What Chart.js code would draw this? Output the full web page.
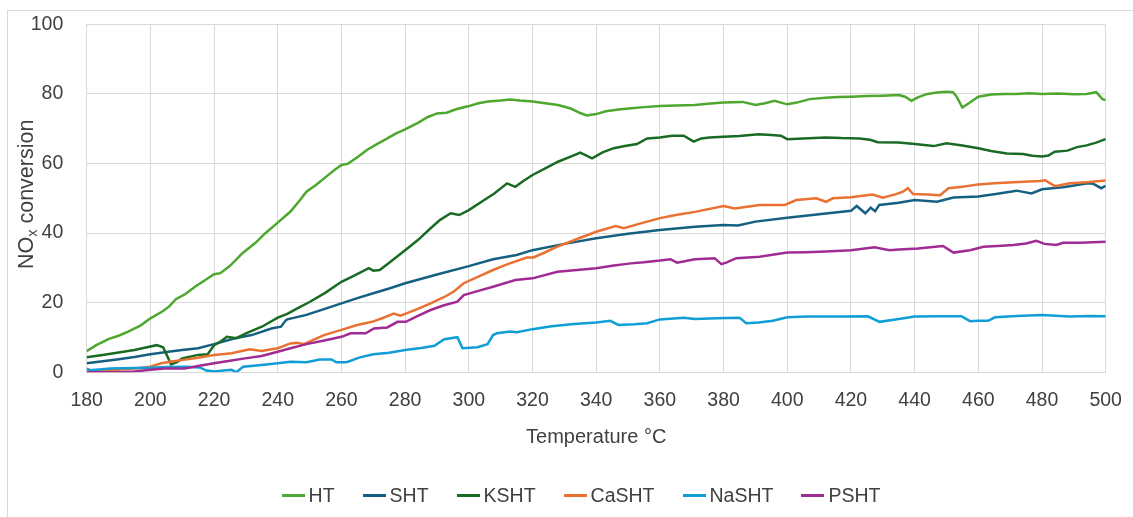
<!DOCTYPE html>
<html>
<head>
<meta charset="utf-8">
<script src="https://cdn.jsdelivr.net/npm/chart.js@4.4.1/dist/chart.umd.min.js"></script>
<style>
  html, body { margin: 0; padding: 0; background: #ffffff; }
  #wrap { position: relative; width: 1133px; height: 517px; overflow: hidden;
          font-family: "Liberation Sans", Arial, sans-serif; }
  #frame { position: absolute; left: 7px; top: 10px; width: 1300px; height: 700px;
           border-left: 1px solid #d9d9d9; border-top: 1px solid #d9d9d9; }
  #chart { position: absolute; left: 0; top: 0; }
  #legend { position: absolute; left: 0; width: 1162px; top: 483px; height: 24px;
            display: flex; justify-content: center; align-items: center;
            font-size: 19.5px; color: #404040; }
  .item { display: flex; align-items: center; margin: 0 14px; }
  .swatch { width: 23px; height: 3px; margin-right: 4px; }
</style>
</head>
<body>
<div id="wrap">
  <div id="frame"></div>
  <canvas id="chart" width="1133" height="517"></canvas>
  <div id="legend"></div>
</div>
<script>
// Axis ticks
const xTicks = [180, 200, 220, 240, 260, 280, 300, 320, 340, 360, 380, 400, 420, 440, 460, 480, 500];
const yTicks = [0, 20, 40, 60, 80, 100];

// HT
const htTemp = [180,183,187,190,193,197,200,204,206,208,211,214,217,220,222,225,229,233,236,240,244,247,249,252,256,258,260,262,265,268,271,274,277,280,284,287,290,293,296,300,303,306,310,313,316,320,324,328,332,335,337,340,343,347,351,355,360,365,371,375,380,383,386,390,393,396,398,400,403,407,412,416,420,425,430,435,437,439,441,444,447,450,452,453,455,457,460,464,468,472,476,480,485,490,494,497,499,500];
const htConv = [6.1,7.8,9.6,10.5,11.7,13.5,15.5,17.6,19,21,22.5,24.6,26.4,28.2,28.5,30.6,34.3,37.2,39.9,43,46.2,49.5,51.9,53.8,56.8,58.3,59.6,59.9,61.8,63.9,65.5,67,68.6,69.8,71.7,73.3,74.4,74.6,75.6,76.5,77.3,77.8,78.1,78.4,78.1,77.8,77.3,76.8,75.8,74.5,73.8,74.2,75,75.5,75.9,76.2,76.5,76.7,76.8,77.2,77.5,77.6,77.7,76.8,77.3,78,77.5,77,77.5,78.5,78.9,79.1,79.2,79.4,79.5,79.7,79.2,78,79,80,80.4,80.6,80.5,79.5,76.1,77.3,79.2,79.8,80,80,80.2,80,80.1,79.9,80,80.5,78.5,78.2];

// SHT
const shtTemp = [180,185,189.5,195,200,205.6,210,215,220,226.6,231.8,238,241,242.6,243,249,255,260,265,270,275,280,290,300,307.6,315,320,330,340,350,360,371,380,384.5,390,400,410,420,421.8,424.5,426.2,427.6,428.9,435,440,447,452.2,460,466,472,476.7,480,486.6,494.4,496,498.6,500];
const shtConv = [2.6,3.2,3.7,4.4,5.2,5.9,6.4,6.9,8.1,9.8,10.7,12.6,13.1,15,15.2,16.5,18.3,19.8,21.3,22.7,24.1,25.6,28.1,30.5,32.5,33.7,35.1,36.9,38.5,39.8,40.9,41.8,42.3,42.2,43.3,44.4,45.4,46.4,47.8,45.7,47.3,46.3,48.1,48.7,49.5,49,50.2,50.5,51.3,52.2,51.4,52.6,53.2,54.3,54.2,52.9,53.6];

// KSHT
const kshtTemp = [180,185,190,195,200,202,204,206.5,208.5,210,215,218,220,222,224,227,230,235,240,243,246,250,255,260,264,268.6,270,272,275,280,284,288,291,294.3,297,300,304,308,312,314.6,317,320,324,328,332,335,338.7,342,345.5,349,352.8,356,360,363.8,367.5,370.6,373,375.6,380,385,391,395,398,400,405,412,417,422.7,426,428.4,435,440,446,450,455,460,464,469,474,477,480,482,484,488,491,494,497,500];
const kshtConv = [4.3,5,5.7,6.4,7.4,7.8,7.2,2.3,3,4,5,5.2,7.8,8.8,10.2,9.8,11.2,13.1,15.7,16.8,18.3,20.2,22.9,26,27.8,29.9,29.2,29.4,31.5,35.1,38,41.4,43.8,45.7,45.2,46.6,49,51.4,54.3,53.3,54.9,56.7,58.6,60.5,62,63.1,61.5,63.2,64.4,65,65.6,67.2,67.5,68,68,66.3,67.2,67.5,67.7,67.9,68.4,68.2,68,67,67.2,67.5,67.3,67.2,66.8,66.1,66,65.6,65,65.8,65.2,64.4,63.6,62.9,62.7,62.2,62,62.3,63.4,63.7,64.7,65.2,66,67];

// CaSHT
const cashtTemp = [180,185,189.5,195,200,203.4,206,209.8,215,220,225.5,231.2,234.9,240,244,246.1,248.2,254.5,260,264.9,269.6,273,276.4,278.5,280,284,288,292,295.3,298.4,303,307.6,312,318.2,320.3,324,327.8,334,340,346.1,348.7,354,360,365,371,380,383.5,391.3,399.2,402.8,409.1,412.2,414.3,420,426.8,430,434.2,436.3,437.9,439.5,444,448,450.6,455,460,465,471,479.3,481,484,488.7,494,500];
const cashtConv = [0.2,0.4,0.7,1.1,1.6,2.6,3,3.5,4.2,5,5.5,6.6,6.1,6.9,8.3,8.5,8.1,10.7,12.2,13.6,14.5,15.6,16.9,16.3,16.8,18.2,19.8,21.5,23.2,25.6,27.5,29.4,31,33,33,34.5,36.1,38.3,40.4,42,41.4,42.8,44.3,45.2,46.1,47.8,47.1,48.1,48.1,49.5,50,49,50,50.3,51.1,50.2,51.2,51.9,52.9,51.2,51.1,50.9,52.9,53.3,54,54.3,54.6,55,55.2,53.5,54.3,54.6,55.1];

// NaSHT
const nashtTemp = [180,181,187.5,195,200,205,210.8,215.5,217.6,220.2,223,225.5,227,229.1,234.9,240,244,249,253.2,256.9,258.4,261.6,265.8,270,275,280,285,289.2,292.3,296.4,298,302.7,305.9,307.6,308.8,313,315.1,320,326,333,340,344.4,347,352,356,360,367.5,371,378,385,387.1,391,395.5,400,406,412.2,418,425.3,429,435,440,447,454.7,457.4,460,463.1,465.2,472,480,488.7,495,500];
const nashtConv = [1.1,0.6,1.1,1.2,1.3,1.5,1.6,1.4,0.5,0.2,0.5,0.7,0,1.6,2.1,2.6,3,2.9,3.7,3.7,2.9,2.9,4.3,5.2,5.6,6.4,7,7.6,9.5,10.1,6.9,7.2,8.1,10.7,11.2,11.7,11.5,12.4,13.2,13.9,14.3,14.8,13.6,13.8,14.1,15.2,15.7,15.3,15.5,15.7,14.1,14.3,14.8,15.8,16,16,16,16.1,14.5,15.3,16,16.1,16.1,14.7,14.8,14.8,15.8,16.2,16.5,16,16.2,16.1];

// PSHT
const pshtTemp = [180,190,195,200,204.4,210.8,215,220,225,229.7,234.9,240,244,249,255,260,262.9,267.6,270.2,274.4,277.6,280.2,284,288,292,296.4,298.4,303,307.6,314.6,320,327.8,334,340,345,350.8,355,360,363.3,365.4,371,377.2,379.3,381,384,391.3,400,406,412.2,420,427.4,432.1,435,441,448.9,452.2,457.4,461.6,466,471,475,478.2,480.8,484.5,486.6,492,500];
const pshtConv = [0,0,0.2,0.7,1.1,1.1,1.8,2.6,3.3,4,4.7,5.9,6.9,8.1,9.2,10.2,11.2,11.2,12.6,12.9,14.5,14.5,16.2,17.9,19.2,20.3,22.2,23.4,24.6,26.5,27,28.9,29.4,29.9,30.6,31.3,31.6,32.1,32.5,31.5,32.5,32.8,31.1,31.6,32.8,33.2,34.4,34.5,34.7,35.1,35.9,35.1,35.3,35.6,36.3,34.4,35.1,36.1,36.3,36.6,37,37.8,36.9,36.6,37.2,37.2,37.5];

const seriesNames = ['HT', 'SHT', 'KSHT', 'CaSHT', 'NaSHT', 'PSHT'];
const seriesColors = ['#4EA72E', '#156082', '#196B24', '#E97132', '#0F9ED5', '#A02B93'];
const seriesTemps = [htTemp, shtTemp, kshtTemp, cashtTemp, nashtTemp, pshtTemp];
const seriesConvs = [htConv, shtConv, kshtConv, cashtConv, nashtConv, pshtConv];

const FONT = '"Liberation Sans", Arial, sans-serif';
const TEXT = '#404040';
const GRID = '#d9d9d9';

const datasets = seriesNames.map((name, i) => ({
  label: name,
  data: seriesTemps[i].map((t, j) => ({ x: t, y: seriesConvs[i][j] })),
  borderColor: seriesColors[i],
  backgroundColor: seriesColors[i],
  borderWidth: 2.5,
  pointRadius: 0,
  tension: 0,
  fill: false,
  order: seriesNames.length - i
}));

// Rotated y-axis title with subscript x in NOx
const yTitle = {
  id: 'yTitle',
  afterDraw(chart) {
    const ctx = chart.ctx;
    const big = '21.5px ' + FONT, small = '14.5px ' + FONT;
    ctx.save();
    ctx.font = big; const w1 = ctx.measureText('NO').width;
    const w3 = ctx.measureText(' conversion').width;
    ctx.font = small; const w2 = ctx.measureText('x').width;
    const total = w1 + w2 + w3;
    const cy = (chart.chartArea.top + chart.chartArea.bottom) / 2 - 4;
    ctx.translate(33, cy);
    ctx.rotate(-Math.PI / 2);
    ctx.fillStyle = TEXT;
    ctx.textBaseline = 'alphabetic';
    ctx.textAlign = 'left';
    let x = -total / 2;
    ctx.font = big; ctx.fillText('NO', x, 0); x += w1;
    ctx.font = small; ctx.fillText('x', x, 4); x += w2;
    ctx.font = big; ctx.fillText(' conversion', x, 0);
    ctx.restore();
  }
};

new Chart(document.getElementById('chart'), {
  type: 'line',
  data: { datasets },
  options: {
    responsive: false,
    animation: false,
    layout: { padding: { top: 24.3, right: 27.3, left: 0, bottom: 44.7 } },
    plugins: { legend: { display: false }, tooltip: { enabled: false } },
    scales: {
      x: {
        type: 'linear', min: xTicks[0], max: xTicks[xTicks.length - 1],
        afterBuildTicks(s) { s.ticks = xTicks.map(v => ({ value: v })); },
        afterFit(s) { s.height = 100; s.paddingLeft = 0; s.paddingRight = 0; },
        ticks: { padding: 17, color: TEXT, font: { family: FONT, size: 19.5 } },
        grid: { color: GRID, lineWidth: 1, drawTicks: false },
        border: { color: GRID },
        title: { display: true, text: 'Temperature °C', color: TEXT,
                 font: { family: FONT, size: 20 }, padding: { top: 0, bottom: 23 } }
      },
      y: {
        min: yTicks[0], max: yTicks[yTicks.length - 1],
        afterBuildTicks(s) { s.ticks = yTicks.map(v => ({ value: v })); },
        afterFit(s) { s.width = 86.7; s.paddingTop = 0; s.paddingBottom = 0; },
        ticks: { padding: 23.4, color: TEXT, font: { family: FONT, size: 19.5 } },
        grid: { color: GRID, lineWidth: 1, drawTicks: false },
        border: { color: GRID }
      }
    }
  },
  plugins: [yTitle]
});

// Legend
const legend = document.getElementById('legend');
seriesNames.forEach((name, i) => {
  const item = document.createElement('div');
  item.className = 'item';
  const sw = document.createElement('span');
  sw.className = 'swatch';
  sw.style.background = seriesColors[i];
  const label = document.createElement('span');
  label.textContent = name;
  item.appendChild(sw);
  item.appendChild(label);
  legend.appendChild(item);
});
</script>
</body>
</html>
